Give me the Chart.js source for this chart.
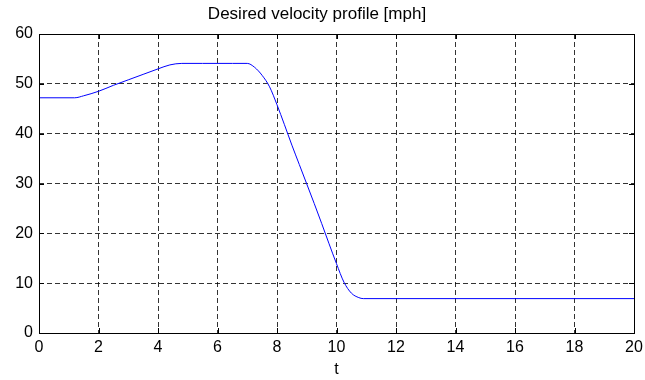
<!DOCTYPE html>
<html>
<head>
<meta charset="utf-8">
<title>Desired velocity profile</title>
<script src="https://cdn.jsdelivr.net/npm/chart.js@4/dist/chart.umd.min.js"></script>
<style>
  html, body { margin:0; padding:0; background:#fff; overflow:hidden; }
  canvas { display:block; }
</style>
</head>
<body>
<canvas id="chart-vel" width="645" height="380"></canvas>
<script>
// perfil de velocidade desejado — tempo (s) x velocidade (mph)
const tempo = [0, 1.2, 1.5, 2, 2.5, 3, 3.5, 4, 4.4, 4.8, 5.5, 6.5, 7.0, 7.25, 7.5, 7.75, 8, 8.25, 8.5, 8.75, 9, 9.25, 9.5, 9.75, 10, 10.25, 10.5, 10.75, 10.9, 12, 16, 20];
const velocidade = [47.2, 47.2, 47.6, 48.5, 49.7, 50.8, 51.9, 53.0, 53.8, 54.1, 54.1, 54.1, 54.1, 53.3, 51.7, 49.4, 45.8, 41.8, 37.7, 33.8, 29.9, 26.0, 22.0, 17.9, 13.9, 10.2, 8.0, 7.1, 6.9, 6.9, 6.9, 6.9];

const tTicks = [0, 2, 4, 6, 8, 10, 12, 14, 16, 18, 20];
const vTicks = [0, 10, 20, 30, 40, 50, 60];

const familia = "'Liberation Sans', Arial, sans-serif";
const fonteEixo = { family: familia, size: 16 };

// moldura preta + marcas internas estilo MATLAB
const moldura = {
  id: 'moldura',
  afterDraw(chart) {
    const { ctx, chartArea: a, scales } = chart;
    ctx.save();
    ctx.strokeStyle = '#000';
    ctx.lineWidth = 1;
    ctx.strokeRect(Math.round(a.left) + 0.5, Math.round(a.top) + 0.5,
                   Math.round(a.right - a.left), Math.round(a.bottom - a.top));
    ctx.beginPath();
    tTicks.forEach(v => {
      const x = Math.round(scales.x.getPixelForValue(v)) + 0.5;
      ctx.moveTo(x, a.bottom); ctx.lineTo(x, a.bottom - 5);
      ctx.moveTo(x, a.top);    ctx.lineTo(x, a.top + 5);
    });
    vTicks.forEach(v => {
      const y = Math.round(scales.y.getPixelForValue(v)) + 0.5;
      ctx.moveTo(a.left, y);  ctx.lineTo(a.left + 5, y);
      ctx.moveTo(a.right, y); ctx.lineTo(a.right - 5, y);
    });
    ctx.stroke();
    ctx.restore();
  }
};

new Chart(document.getElementById('chart-vel').getContext('2d'), {
  type: 'line',
  data: {
    datasets: [{
      label: 'v',
      data: tempo.map((t, i) => ({ x: t, y: velocidade[i] })),
      borderColor: '#0000ff',
      borderWidth: 1,
      pointRadius: 0,
      fill: false,
      cubicInterpolationMode: 'monotone'
    }]
  },
  options: {
    responsive: false,
    animation: false,
    devicePixelRatio: 1,
    layout: { padding: { top: 0, left: 0, right: 11, bottom: 0 } },
    plugins: {
      legend: { display: false },
      tooltip: { enabled: false },
      title: {
        display: true,
        text: 'Desired velocity profile [mph]',
        color: '#000',
        font: { family: familia, size: 17, weight: 'normal' },
        padding: { top: 4, bottom: 9.6 }
      }
    },
    scales: {
      x: {
        type: 'linear', min: 0, max: 20,
        afterFit: s => { s.height = 47; s.paddingLeft = 0; s.paddingRight = 0; },
        afterBuildTicks: s => { s.ticks = tTicks.map(v => ({ value: v })); },
        ticks: { color: '#000', font: fonteEixo, padding: 5, maxRotation: 0 },
        grid: { color: 'rgba(0,0,0,0.8)', drawTicks: false, lineWidth: 1 },
        border: { display: false, dash: [5, 3] },
        title: { display: true, text: 't', color: '#000', font: fonteEixo, padding: { top: 0, bottom: 1 } }
      },
      y: {
        min: 0, max: 60,
        afterFit: s => { s.width = 39; s.paddingTop = 0; s.paddingBottom = 0; },
        afterBuildTicks: s => { s.ticks = vTicks.map(v => ({ value: v })); },
        ticks: { color: '#000', font: fonteEixo, padding: 6 },
        grid: { color: 'rgba(0,0,0,0.8)', drawTicks: false, lineWidth: 1 },
        border: { display: false, dash: [5, 3] }
      }
    }
  },
  plugins: [moldura]
});
</script>
</body>
</html>
